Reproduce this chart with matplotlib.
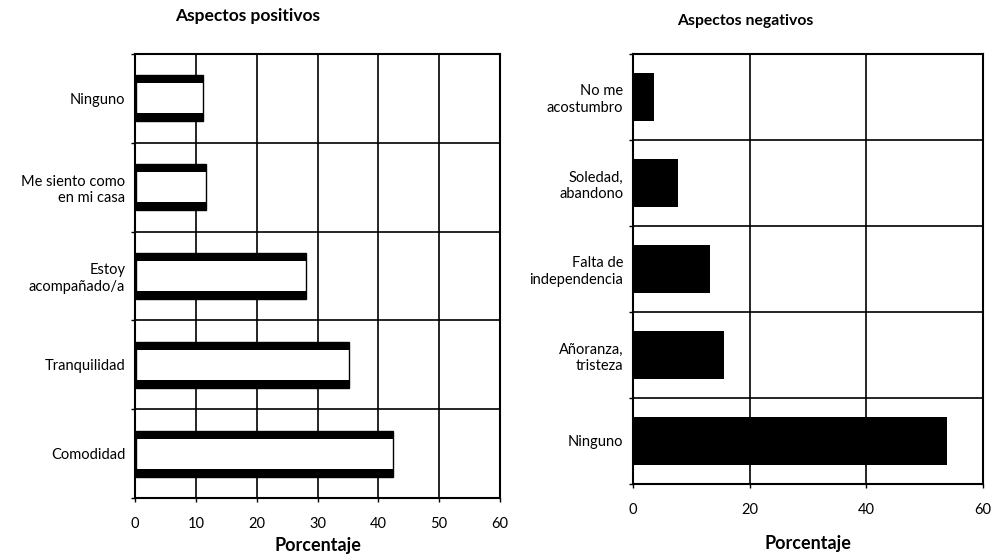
import numpy as np
import matplotlib
matplotlib.use('Agg')
from matplotlib import pyplot as plt

plt.rcParams['font.family'] = ['Lato', 'DejaVu Sans']

### Data
pos_labels = ['Ninguno', 'Me siento como\nen mi casa', 'Estoy\nacompañado/a',
              'Tranquilidad', 'Comodidad']
pos_values = [11, 11.5, 28, 35, 42.2]

neg_labels = ['No me\nacostumbro', 'Soledad,\nabandono', 'Falta de\nindependencia',
              'Añoranza,\ntristeza', 'Ninguno']
neg_values = [3.5, 7.5, 13, 15.5, 53.7]

pos_ticks = [0, 10, 20, 30, 40, 50, 60]
neg_ticks = [0, 20, 40, 60]


def setup(ax, labels, ticks):
    n = len(labels)
    ax.set_xlim(0, 60)
    ax.set_ylim(n, 0)
    ax.set_yticks(np.arange(n) + 0.5)
    ax.set_yticklabels(labels, fontsize=10.5, linespacing=1.2)
    ax.set_yticks(np.arange(n + 1), minor=True)
    ax.tick_params(axis='y', which='major', length=0, pad=7)
    ax.tick_params(axis='y', which='minor', length=3, width=1, direction='out')
    ax.set_xticks(ticks)
    ax.set_xticklabels([str(t) for t in ticks], fontsize=10.5)
    ax.tick_params(axis='x', length=3, width=1, direction='out', pad=11)
    for y in range(1, n):
        ax.axhline(y, color='black', lw=1.2, zorder=1)
    for x in ticks[1:-1]:
        ax.axvline(x, color='black', lw=1.2, zorder=1)
    for s in ax.spines.values():
        s.set_linewidth(1.5)
    ax.set_xlabel('Porcentaje', fontsize=13, fontweight='bold')


fig = plt.figure(figsize=(10.04, 5.56), dpi=100)

### Left: aspectos positivos
ax1 = fig.add_axes([0.1345, 0.1043, 0.3635, 0.7986])
setup(ax1, pos_labels, pos_ticks)
yy = np.arange(len(pos_values)) + 0.5
h = 0.52
ax1.barh(yy, pos_values, height=h, left=0.15, color='white', edgecolor='black',
         lw=1, zorder=2)
ax1.barh(yy - h/2 + 0.045, pos_values, height=0.09, left=0.15, color='black', zorder=3)
ax1.barh(yy + h/2 - 0.045, pos_values, height=0.09, left=0.15, color='black', zorder=3)
ax1.xaxis.labelpad = 4
fig.text(0.247, 0.972, 'Aspectos positivos', fontsize=12.5, fontweight='bold',
         ha='center', va='center')

### Right: aspectos negativos
ax2 = fig.add_axes([0.6305, 0.1295, 0.3486, 0.7734])
setup(ax2, neg_labels, neg_ticks)
yy = np.arange(len(neg_values)) + 0.5
ax2.barh(yy, neg_values, height=0.55, left=0.15, color='black', zorder=2)
ax2.xaxis.labelpad = 13
fig.text(0.742, 0.962, 'Aspectos negativos', fontsize=11.3, fontweight='bold',
         ha='center', va='center')

plt.savefig('out.png', dpi=100)
